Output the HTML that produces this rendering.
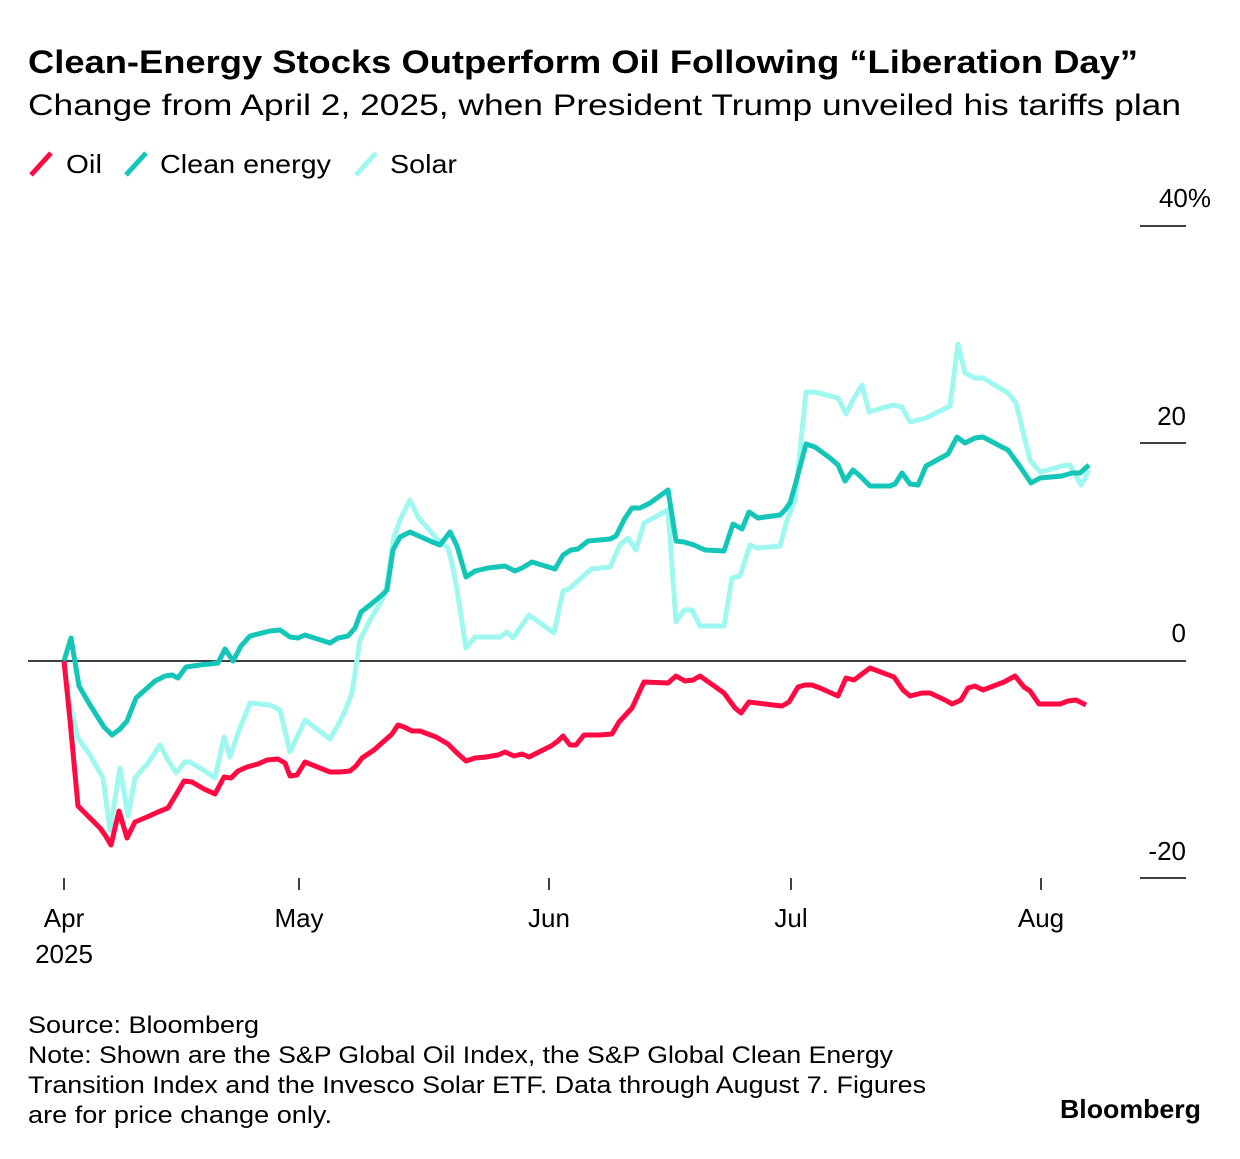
<!DOCTYPE html>
<html><head><meta charset="utf-8"><style>
body{margin:0;background:#fff;width:1240px;height:1154px;overflow:hidden;font-family:"Liberation Sans",sans-serif;color:#000}
</style></head><body>
<svg width="1240" height="1154" viewBox="0 0 1240 1154" xmlns="http://www.w3.org/2000/svg" font-family="Liberation Sans, sans-serif">
<text x="28" y="73" font-size="32" font-weight="bold" textLength="1110" lengthAdjust="spacingAndGlyphs">Clean-Energy Stocks Outperform Oil Following “Liberation Day”</text>
<text x="28" y="115" font-size="30" textLength="1153" lengthAdjust="spacingAndGlyphs">Change from April 2, 2025, when President Trump unveiled his tariffs plan</text>
<g stroke-width="5" stroke-linecap="butt">
<line x1="31" y1="175" x2="51" y2="153" stroke="#ff0a43"/>
<line x1="126" y1="175" x2="146" y2="153" stroke="#13c6b8"/>
<line x1="356" y1="175" x2="376" y2="153" stroke="#9ef8f0"/>
</g>
<text x="66" y="173" font-size="26" textLength="36" lengthAdjust="spacingAndGlyphs">Oil</text>
<text x="160" y="173" font-size="26" textLength="171" lengthAdjust="spacingAndGlyphs">Clean energy</text>
<text x="390" y="173" font-size="26" textLength="67" lengthAdjust="spacingAndGlyphs">Solar</text>
<g font-size="26" text-anchor="end">
<text x="1211" y="207">40%</text>
<text x="1186" y="425">20</text>
<text x="1186" y="642">0</text>
<text x="1186" y="860">-20</text>
</g>
<g stroke="#000" stroke-width="1.5">
<line x1="1140" y1="226" x2="1186" y2="226"/>
<line x1="1140" y1="443" x2="1186" y2="443"/>
<line x1="1140" y1="878" x2="1186" y2="878"/>
<line x1="28" y1="661" x2="1186" y2="661"/>
<line x1="64" y1="878" x2="64" y2="890"/>
<line x1="299" y1="878" x2="299" y2="890"/>
<line x1="549" y1="878" x2="549" y2="890"/>
<line x1="791" y1="878" x2="791" y2="890"/>
<line x1="1041" y1="878" x2="1041" y2="890"/>
</g>
<g font-size="26" text-anchor="middle">
<text x="64" y="927">Apr</text>
<text x="64" y="963">2025</text>
<text x="299" y="927">May</text>
<text x="549" y="927">Jun</text>
<text x="791" y="927">Jul</text>
<text x="1041" y="927">Aug</text>
</g>
<g fill="none" stroke-width="5" stroke-linejoin="round">
<polyline stroke="#9ef8f0" points="64,661 70,705 78,738 90,755 103,778 110,830 120,768 128,816 135,778 148,763 160,745 168,760 176,773 185,762 190,762 205,771 215,778 224,737 230,757 238,733 250,703 270,705 280,710 290,752 305,720 330,739 338,725 345,711 352,693 360,640 370,620 382,600 386,590 394,537 400,520 410,500 418,517 436,538 448,548 452,563 457,590 466,648 475,637 500,637 507,632 513,638 529,615 554,633 563,591 569,589 580,579 591,569 610,567 620,545 628,538 636,550 644,523 668,510 676,622 684,610 692,610 700,626 724,626 732,578 740,576 750,545 757,548 780,546 787,520 795,500 806,392 815,392 838,398 846,414 853,400 862,385 869,412 893,405 902,407 910,422 926,418 950,406 958,344 965,373 975,378 983,378 1008,393 1016,403 1030,460 1040,472 1062,466 1070,465 1081,485 1089,470"/>
<polyline stroke="#13c6b8" points="64,661 71,638 79,686 90,705 104,727 112,735 120,729 127,721 136,698 145,690 155,681 165,676 172,675 178,678 186,667 200,665 218,663 225,649 233,661 241,646 250,636 270,631 280,630 290,637 298,638 305,635 330,643 338,638 348,636 355,628 361,612 370,605 382,595 387,590 393,550 400,537 410,532 430,541 440,545 450,532 457,546 466,577 475,571 488,568 505,566 515,571 522,568 532,562 555,569 563,555 571,550 578,549 588,541 610,539 616,536 625,518 632,508 640,508 650,503 668,490 676,541 684,542 694,545 705,550 724,551 733,524 742,529 749,512 758,518 780,515 785,510 790,503 796,482 806,444 815,447 830,458 838,465 845,481 853,470 860,476 870,486 890,486 895,484 902,473 910,484 918,485 926,466 948,454 957,437 965,443 975,438 983,437 1000,446 1008,450 1021,468 1031,483 1040,478 1062,476 1072,473 1080,473 1089,465"/>
<polyline stroke="#ff0a43" points="64,661 70,720 78,806 100,828 105,835 111,845 119,811 127,838 135,822 147,817 158,812 168,808 177,793 184,781 192,782 204,789 215,794 224,777 231,778 238,771 247,767 258,764 267,760 278,759 285,763 290,776 297,775 305,762 320,768 330,772 340,772 350,771 356,766 362,758 374,750 383,742 392,734 398,725 404,727 412,731 420,731 436,737 448,744 457,753 466,761 475,758 486,757 498,755 505,752 514,756 522,754 529,757 541,751 551,746 558,741 563,736 570,745 576,745 584,735 600,735 612,734 619,722 632,708 644,682 668,683 676,676 685,681 693,680 700,676 717,688 724,693 735,708 741,713 749,702 773,705 782,706 789,702 798,687 805,685 812,685 820,688 838,696 846,678 854,680 870,668 878,671 894,677 903,690 910,696 922,693 930,693 945,700 952,704 961,700 968,688 975,686 983,690 1004,682 1015,676 1024,687 1030,691 1039,704 1060,704 1068,701 1076,700 1086,705"/>
</g>
<g font-size="24">
<text x="28" y="1033" textLength="231" lengthAdjust="spacingAndGlyphs">Source: Bloomberg</text>
<text x="28" y="1063" textLength="865" lengthAdjust="spacingAndGlyphs">Note: Shown are the S&amp;P Global Oil Index, the S&amp;P Global Clean Energy</text>
<text x="28" y="1093" textLength="898" lengthAdjust="spacingAndGlyphs">Transition Index and the Invesco Solar ETF. Data through August 7. Figures</text>
<text x="28" y="1123" textLength="304" lengthAdjust="spacingAndGlyphs">are for price change only.</text>
</g>
<text x="1060" y="1118" font-size="26" font-weight="bold" textLength="141" lengthAdjust="spacingAndGlyphs">Bloomberg</text>
</svg>
</body></html>
